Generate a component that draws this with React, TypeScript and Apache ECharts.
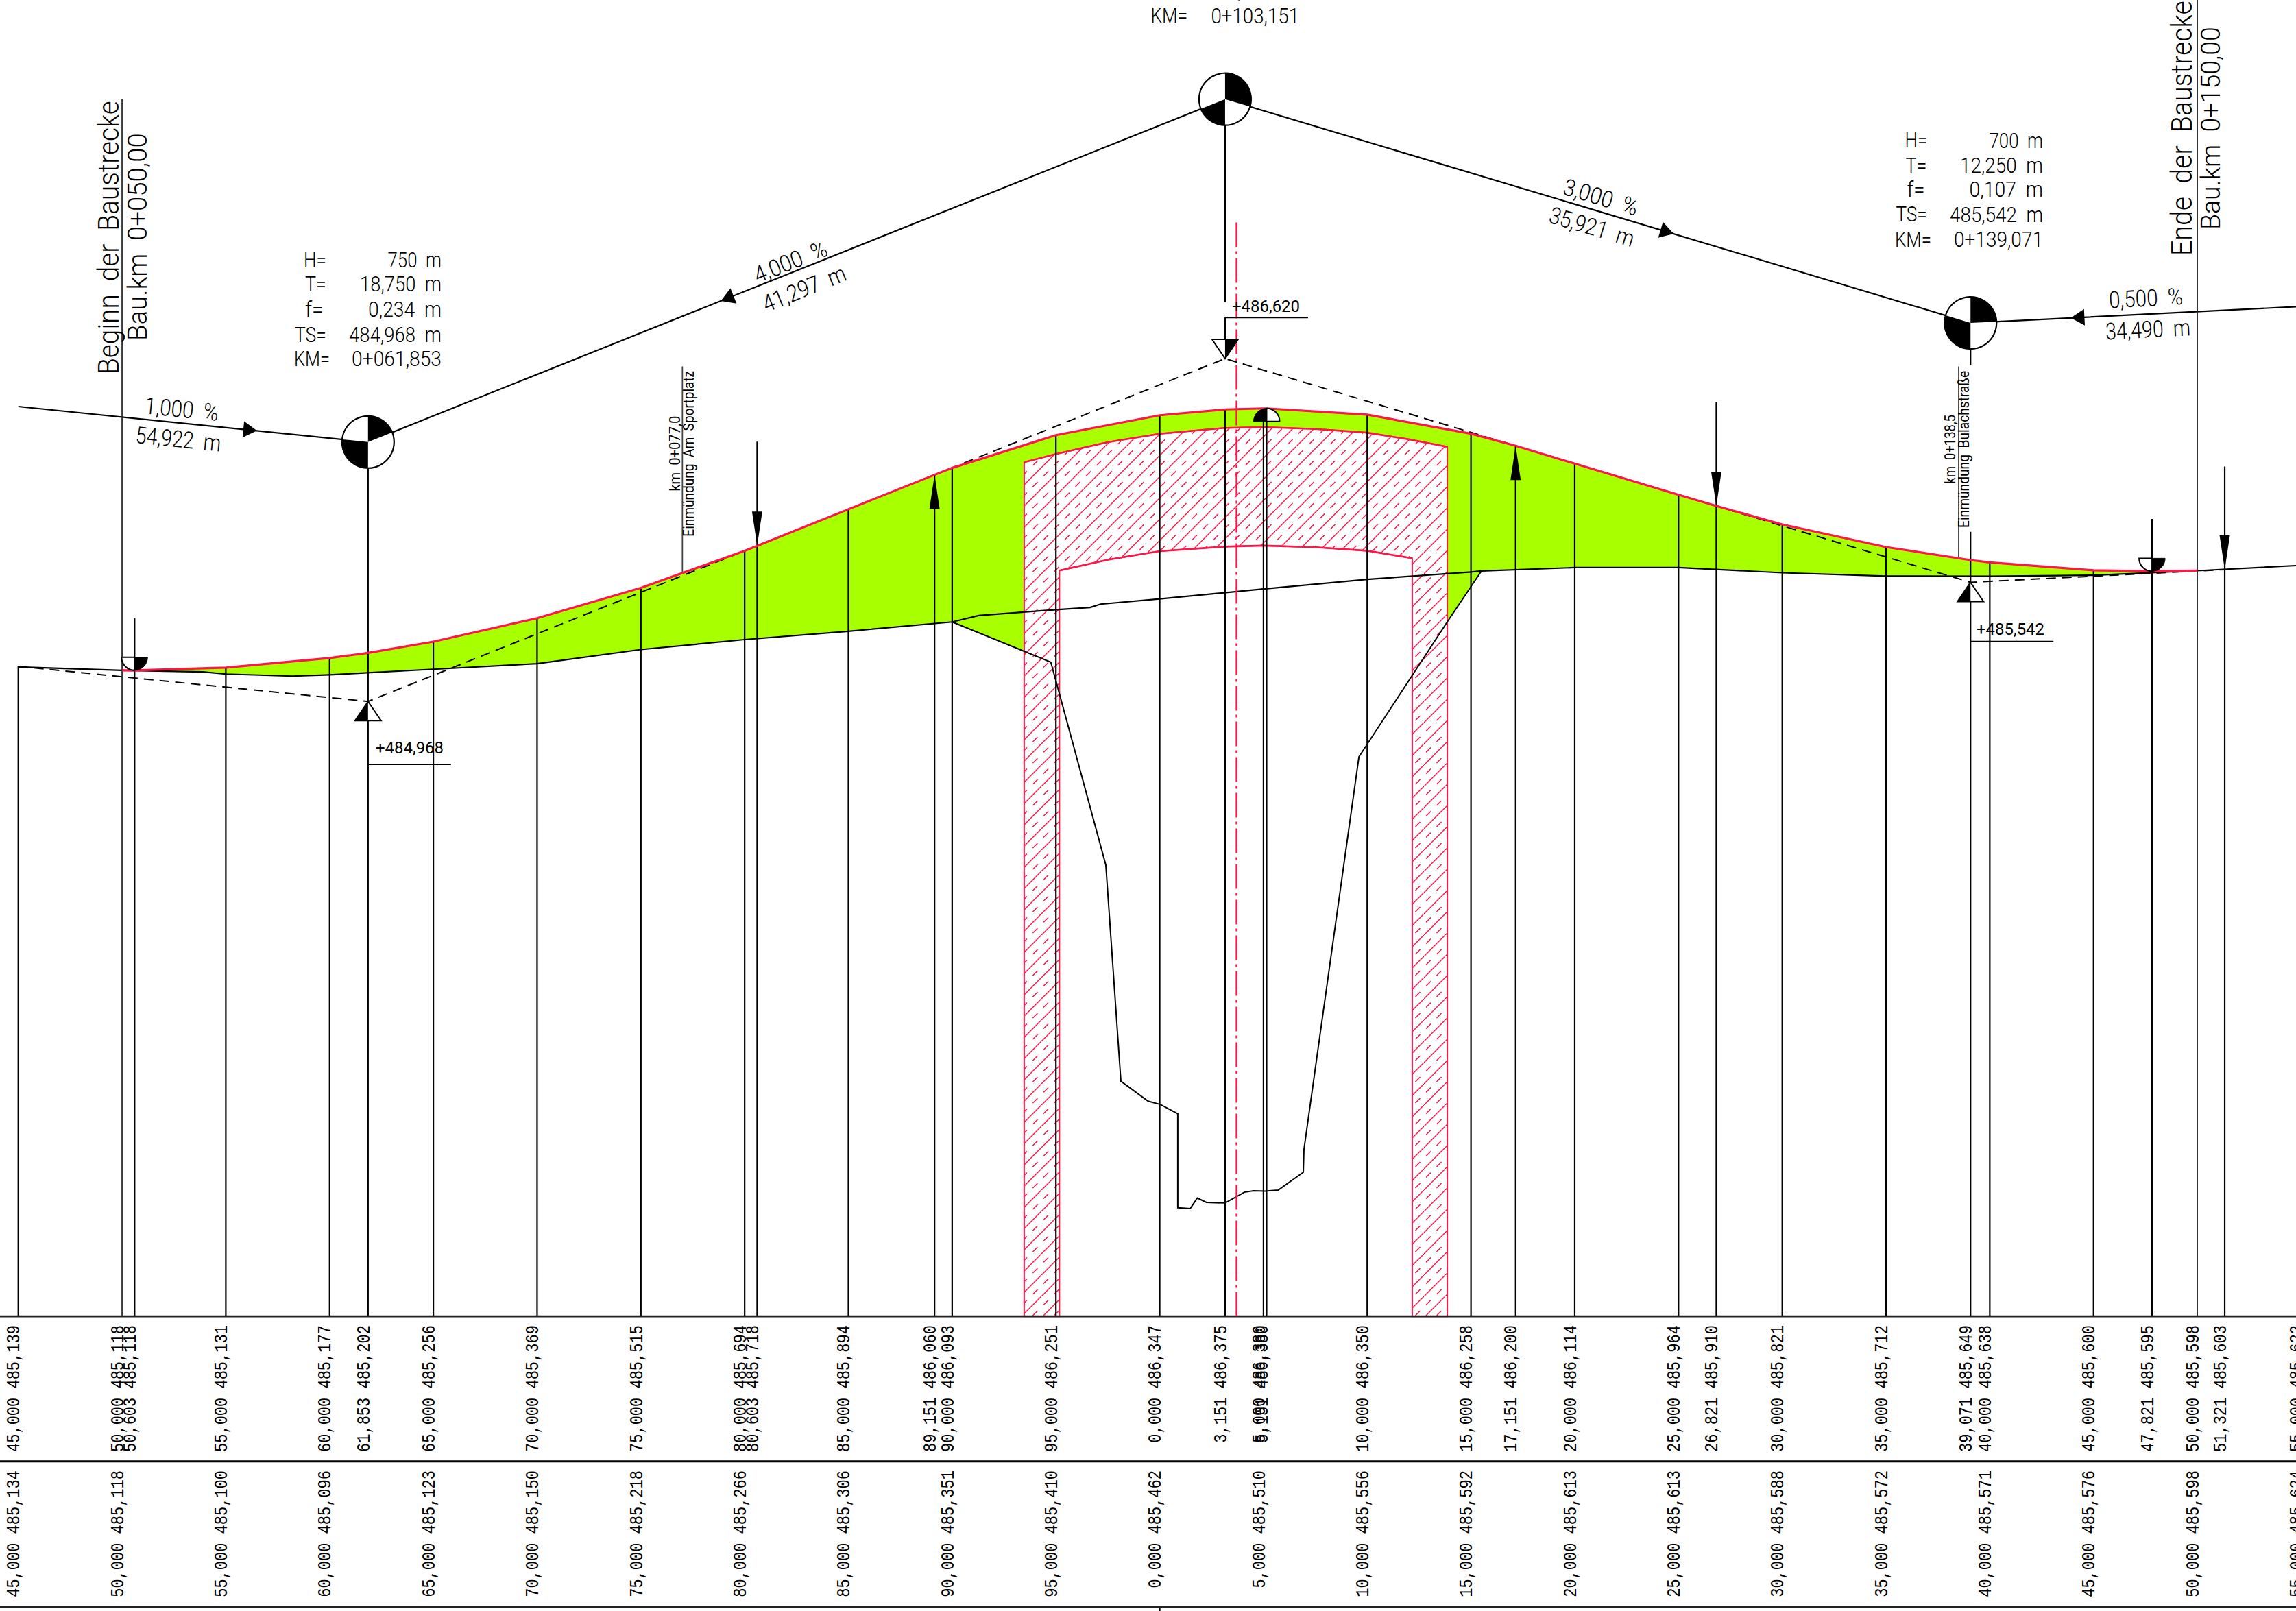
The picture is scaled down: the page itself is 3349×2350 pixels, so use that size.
import React, { useEffect, useRef } from "react";
import * as echarts from "echarts";

// ---------- survey data (chainage in m, elevation in m) ----------
const roadStations = [50, 50.603, 55, 60, 61.853, 65, 70, 75, 80, 80.603, 85, 89.151, 90, 95, 100, 103.151, 105, 105.151, 110, 115, 117.151, 120, 125, 126.821, 130, 135, 139.071, 140, 145, 147.821, 150];
const roadElev = [485.118, 485.118, 485.131, 485.177, 485.202, 485.256, 485.369, 485.515, 485.694, 485.718, 485.894, 486.06, 486.093, 486.251, 486.347, 486.375, 486.38, 486.38, 486.35, 486.258, 486.2, 486.114, 485.964, 485.91, 485.821, 485.712, 485.649, 485.638, 485.6, 485.595, 485.598];

const groundStations = [45, 50, 53.9, 55, 58.2, 60, 65, 70, 75, 80, 85, 90, 91.28, 95, 96.65, 97.15, 100, 105, 110, 115, 115.51, 120, 125, 130, 135, 140, 145, 150, 155];
const groundElev = [485.134, 485.118, 485.11, 485.1, 485.09, 485.096, 485.123, 485.15, 485.218, 485.266, 485.306, 485.351, 485.382, 485.41, 485.421, 485.437, 485.462, 485.51, 485.556, 485.592, 485.597, 485.613, 485.613, 485.588, 485.572, 485.571, 485.576, 485.598, 485.624];

const slopeStations = [90, 94.755, 97.405, 98.13, 99.44, 100.03, 100.87, 100.87, 101.47, 101.81, 102.25, 103.15, 104.08, 104.52, 105.07, 105.71, 106.92, 106.95, 109.6, 113.86, 115.51];
const slopeElev = [485.351, 485.157, 484.179, 483.138, 483.042, 483.026, 482.981, 482.528, 482.524, 482.575, 482.554, 482.551, 482.603, 482.61, 482.608, 482.613, 482.699, 482.808, 484.701, 485.352, 485.597];

const tangentStations = [45, 61.853, 103.151, 139.071, 151.321];
const tangentElev = [485.137, 484.968, 486.62, 485.542, 485.603];

const gradeStations = [45, 61.853, 103.151, 139.071, 154.755];
const gradeElev = [486.389, 486.218, 487.87, 486.792, 486.87];

const outerArchStations = [93.47, 95, 97.5, 100, 103.15, 105, 107.5, 110, 112, 113.86];
const outerArchElev = [486.121, 486.16, 486.217, 486.258, 486.286, 486.29, 486.281, 486.263, 486.231, 486.195];
const innerArchStations = [95.17, 97.5, 100, 103.15, 105, 107.5, 110, 112.17];
const innerArchElev = [485.599, 485.651, 485.692, 485.714, 485.719, 485.711, 485.694, 485.658];

// verticals: station, from elevation, to elevation
const TABLE_TOP = 482.005;
const TABLE_MID = 481.306;
const TABLE_BOTTOM = 480.604;
const AXIS_TOP = 488.348;
const AXIS_BOTTOM = 480.585;
const plainVerticals = [55, 60, 65, 70, 75, 80, 85, 89.151, 90, 95, 100, 105, 105.151, 110, 115, 117.151, 120, 125, 130, 135, 140, 145];
const specialVerticals = [
  [45, 485.137, TABLE_TOP],
  [50.603, 485.369, TABLE_TOP],
  [61.853, 486.218, TABLE_TOP],
  [80.603, 486.22, TABLE_TOP],
  [103.151, 487.87, 486.894],
  [103.151, 486.818, 486.62],
  [103.151, 486.375, TABLE_TOP],
  [126.821, 486.409, TABLE_TOP],
  [139.071, 486.792, 486.587],
  [139.071, 485.785, TABLE_TOP],
  [147.821, 485.847, TABLE_TOP],
  [151.321, 486.1, TABLE_TOP],
  [100, TABLE_BOTTOM, AXIS_BOTTOM],
];
const thinVerticals = [
  [50, 487.869, TABLE_TOP],
  [150, AXIS_TOP, TABLE_TOP],
];
const noteVerticals = [
  [77, 486.582, 485.59],
  [138.5, 486.582, 485.655],
];

const CENTER_STATION = 103.7;
const CENTER_TOP = 487.276;

const arrowStations = [80.603, 89.151, 117.151, 126.821, 151.321];
const arrowElev = [485.718, 486.06, 486.2, 485.91, 485.603];
const arrowDirs = [-1, 1, 1, -1, -1];

const gradeArrowStations = [56.5, 78.85, 124.77, 143.9];

const domeStations = [50.603, 105.151, 147.821];
const domeElev = [485.118, 486.38, 485.595];
const domeKinds = ["low", "high", "low"];

const levelStations = [61.853, 103.151, 139.071];
const levelElev = [484.968, 486.62, 485.542];
const levelKinds = [1, -1, 1];
const levelFlagElev = [484.665, 486.818, 485.257];

// table rows
const upperStations = [45, 50, 50.603, 55, 60, 61.853, 65, 70, 75, 80, 80.603, 85, 89.151, 90, 95, 100, 103.151, 105, 105.151, 110, 115, 117.151, 120, 125, 126.821, 130, 135, 139.071, 140, 145, 147.821, 150, 151.321, 155];
const upperLabels = ["45,000 485,139", "50,000 485,118", "50,603 485,118", "55,000 485,131", "60,000 485,177", "61,853 485,202", "65,000 485,256", "70,000 485,369", "75,000 485,515", "80,000 485,694", "80,603 485,718", "85,000 485,894", "89,151 486,060", "90,000 486,093", "95,000 486,251", "0,000 486,347", "3,151 486,375", "5,000 486,380", "5,151 486,380", "10,000 486,350", "15,000 486,258", "17,151 486,200", "20,000 486,114", "25,000 485,964", "26,821 485,910", "30,000 485,821", "35,000 485,712", "39,071 485,649", "40,000 485,638", "45,000 485,600", "47,821 485,595", "50,000 485,598", "51,321 485,603", "55,000 485,622"];
const lowerStations = [45, 50, 55, 60, 65, 70, 75, 80, 85, 90, 95, 100, 105, 110, 115, 120, 125, 130, 135, 140, 145, 150, 155];
const lowerLabels = ["45,000 485,134", "50,000 485,118", "55,000 485,100", "60,000 485,096", "65,000 485,123", "70,000 485,150", "75,000 485,218", "80,000 485,266", "85,000 485,306", "90,000 485,351", "95,000 485,410", "0,000 485,462", "5,000 485,510", "10,000 485,556", "15,000 485,592", "20,000 485,613", "25,000 485,613", "30,000 485,588", "35,000 485,572", "40,000 485,571", "45,000 485,576", "50,000 485,598", "55,000 485,624"];
const UPPER_ROW = 481.962;
const LOWER_ROW = 481.262;

// ---------- texts ----------
const annotationTexts = [
  // text, x, y, rotation, length, size, align, weight
  ["Beginn  der  Baustrecke", 158.5, 546, Math.PI / 2, 399, 42, "left", 300],
  ["Bau.km  0+050,00", 200, 497, Math.PI / 2, 303, 39, "left", 300],
  ["Ende  der  Baustrecke", 3183, 373, Math.PI / 2, 372, 42, "left", 300],
  ["Bau.km  0+150,00", 3225, 335, Math.PI / 2, 296, 39, "left", 300],
  ["1,000  %", 265, 597, -0.1, 108, 34, "center", 300],
  ["54,922  m", 260, 641, -0.1, 125, 34, "center", 300],
  ["4,000  %", 1153, 382, 0.38, 112, 34, "center", 300],
  ["41,297  m", 1173, 421, 0.38, 128, 34, "center", 300],
  ["3,000  %", 2335, 288, -0.29, 112, 34, "center", 300],
  ["35,921  m", 2322, 331, -0.29, 128, 34, "center", 300],
  ["0,500  %", 3130, 435, 0.05, 108, 34, "center", 300],
  ["34,490  m", 3133, 481, 0.05, 124, 34, "center", 300],
  ["H=", 443, 378.6, 0, 33, 32, "left", 300],
  ["T=", 445, 414, 0, 31, 32, "left", 300],
  ["f=", 445, 451, 0, 27, 32, "left", 300],
  ["TS=", 430, 488, 0, 46, 32, "left", 300],
  ["KM=", 429, 523, 0, 52, 32, "left", 300],
  ["750  m", 644, 378.6, 0, 78.6, 32, "right", 300],
  ["18,750  m", 644, 414, 0, 119, 32, "right", 300],
  ["0,234  m", 644, 451, 0, 107, 32, "right", 300],
  ["484,968  m", 644, 488, 0, 135, 32, "right", 300],
  ["0+061,853", 644, 523, 0, 131, 32, "right", 300],
  ["TS=", 1680, -14, 0, 46, 32, "left", 300],
  ["486,620  m", 1895, -14, 0, 136, 32, "right", 300],
  ["KM=", 1678.6, 22.3, 0, 53.6, 32, "left", 300],
  ["0+103,151", 1895, 22.3, 0, 128.5, 32, "right", 300],
  ["H=", 2778.6, 204.5, 0, 33, 32, "left", 300],
  ["T=", 2779.5, 241, 0, 31, 32, "left", 300],
  ["f=", 2781.5, 276, 0, 26, 32, "left", 300],
  ["TS=", 2765.4, 312.5, 0, 45.5, 32, "left", 300],
  ["KM=", 2764, 349, 0, 53, 32, "left", 300],
  ["700  m", 2980, 204.5, 0, 78.6, 32, "right", 300],
  ["12,250  m", 2980, 241, 0, 121, 32, "right", 300],
  ["0,107  m", 2980, 276, 0, 107.6, 32, "right", 300],
  ["485,542  m", 2980, 312.5, 0, 136, 32, "right", 300],
  ["0+139,071", 2980, 349, 0, 130, 32, "right", 300],
  ["+486,620", 1797, 447, 0, 99, 23, "left", 400],
  ["+484,968", 548, 1091, 0, 99, 23, "left", 400],
  ["+485,542", 2883, 917.7, 0, 99, 23, "left", 400],
  ["km  0+077,0", 983.7, 716.7, Math.PI / 2, 110, 22, "left", 400],
  ["Einmündung  Am  Sportplatz", 1005, 782.7, Math.PI / 2, 242, 22, "left", 400],
  ["km  0+138,5", 2844, 705.7, Math.PI / 2, 100.7, 22, "left", 400],
  ["Einmündung  Bulachstraße", 2865, 770, Math.PI / 2, 229.3, 22, "left", 400],
];

const RED = "#ff1547";
const GREEN = "#a8ff00";
const BLACK = "#000";
const X_MIN = 44.118;
const X_MAX = 154.755;

function zip(xs: number[], ys: number[]) {
  return xs.map((x, i) => [x, ys[i]]);
}

function lineSeries(data: number[][], color: string, width: number, z: number, type: any = "solid") {
  return {
    type: "line",
    data,
    symbol: "none",
    clip: false,
    silent: true,
    z,
    lineStyle: { color, width, type, cap: "butt", join: "miter" },
    emphasis: { disabled: true },
  };
}

function customSeries(rows: any[], z: number, draw: (row: any, api: any, i: number) => any) {
  return {
    type: "custom",
    coordinateSystem: "cartesian2d",
    clip: false,
    silent: true,
    z,
    data: rows.map((_: any, i: number) => [i]),
    renderItem: (params: any, api: any) => draw(rows[params.dataIndex], api, params.dataIndex),
  };
}

function makeHatch() {
  const T = 31;
  const c = document.createElement("canvas");
  c.width = T;
  c.height = T;
  const g = c.getContext("2d") as CanvasRenderingContext2D;
  g.fillStyle = "#fff";
  g.fillRect(0, 0, T, T);
  g.strokeStyle = RED;
  g.lineWidth = 1.5;
  g.beginPath();
  g.moveTo(-2, T + 2);
  g.lineTo(T + 2, -2);
  g.stroke();
  g.beginPath();
  g.moveTo(3, T / 2 - 3);
  g.lineTo(10, T / 2 - 10);
  g.moveTo(T / 2 + 3, T - 3);
  g.lineTo(T / 2 + 10, T - 10);
  g.stroke();
  return { image: c, repeat: "repeat", imageWidth: T, imageHeight: T };
}

function buildOption() {
  const measure = (document.createElement("canvas").getContext("2d")) as CanvasRenderingContext2D;
  const hatch = makeHatch();
  const roadRows = zip(roadStations, roadElev);
  const roadAt = (s: number) => {
    const i = roadStations.indexOf(s);
    return roadElev[i];
  };

  const greenPts = [
    ...roadRows.filter((p) => p[0] >= 50.603),
    ...zip(groundStations, groundElev).filter((p) => p[0] >= 115.51 && p[0] <= 150).reverse(),
    [113.86, 485.352],
    ...zip(outerArchStations, outerArchElev).reverse(),
    [93.47, 485.212],
    [90, 485.351],
    ...zip(groundStations, groundElev).filter((p) => p[0] <= 90 && p[0] >= 50).reverse(),
  ];

  const outer = zip(outerArchStations, outerArchElev);
  const inner = zip(innerArchStations, innerArchElev);
  const bridgePts = [
    [outer[0][0], TABLE_TOP],
    ...outer,
    [outer[outer.length - 1][0], TABLE_TOP],
    [inner[inner.length - 1][0], TABLE_TOP],
    ...inner.slice().reverse(),
    [inner[0][0], TABLE_TOP],
  ];

  const verticals = [
    ...plainVerticals.map((s) => [s, roadAt(s), TABLE_TOP]),
    ...specialVerticals,
  ];

  const upperRows = upperStations.map((s, i) => [s, upperLabels[i], UPPER_ROW]);
  const lowerRows = lowerStations.map((s, i) => [s, lowerLabels[i], LOWER_ROW]);

  const series: any[] = [
    // fill of the embankment
    customSeries([0], 1, (_r, api) => ({
      type: "polygon",
      shape: { points: greenPts.map((p) => api.coord(p)) },
      style: { fill: GREEN, stroke: null },
    })),
    // bridge section
    customSeries([0], 2, (_r, api) => ({
      type: "polygon",
      shape: { points: bridgePts.map((p) => api.coord(p)) },
      style: { fill: hatch, stroke: RED, lineWidth: 2 },
    })),
    lineSeries(outer, RED, 2.6, 3),
    lineSeries(inner, RED, 2.6, 3),
    // ground, bed, tangents
    lineSeries(zip(groundStations, groundElev), BLACK, 2.2, 5),
    lineSeries(zip(slopeStations, slopeElev), BLACK, 2, 5),
    lineSeries(zip(tangentStations, tangentElev), BLACK, 2, 5, [14, 9]),
    lineSeries(zip(gradeStations, gradeElev), BLACK, 2.2, 5),
    // verticals
    customSeries(verticals, 6, (r, api) => {
      const a = api.coord([r[0], r[1]]);
      const b = api.coord([r[0], r[2]]);
      return { type: "line", shape: { x1: a[0], y1: a[1], x2: b[0], y2: b[1] }, style: { stroke: BLACK, lineWidth: 2.2 } };
    }),
    customSeries(thinVerticals, 6, (r, api) => {
      const a = api.coord([r[0], r[1]]);
      const b = api.coord([r[0], r[2]]);
      return { type: "line", shape: { x1: a[0], y1: a[1], x2: b[0], y2: b[1] }, style: { stroke: "#222", lineWidth: 1.7 } };
    }),
    customSeries(noteVerticals, 6, (r, api) => {
      const a = api.coord([r[0], r[1]]);
      const b = api.coord([r[0], r[2]]);
      return { type: "line", shape: { x1: a[0], y1: a[1], x2: b[0], y2: b[1] }, style: { stroke: "#444", lineWidth: 1.8 } };
    }),
    // table rules
    lineSeries([[X_MIN, TABLE_TOP], [X_MAX, TABLE_TOP]], "#222", 2.6, 6),
    lineSeries([[X_MIN, TABLE_MID], [X_MAX, TABLE_MID]], "#000", 3.2, 6),
    lineSeries([[X_MIN, TABLE_BOTTOM], [X_MAX, TABLE_BOTTOM]], "#222", 2.6, 6),
    // road surface and centre line
    lineSeries(roadRows, RED, 3.2, 7),
    lineSeries([[CENTER_STATION, CENTER_TOP], [CENTER_STATION, TABLE_TOP]], RED, 2.4, 7, [36, 6, 4, 6]),
    // arrows on the road surface
    customSeries(arrowStations, 8, (s, api, i) => {
      const c = api.coord([s, arrowElev[i]]);
      const d = arrowDirs[i];
      return {
        type: "polygon",
        shape: { points: [[c[0], c[1]], [c[0] - 7.5, c[1] + d * 50], [c[0] + 7.5, c[1] + d * 50]] },
        style: { fill: BLACK },
      };
    }),
    // arrows on the gradient lines
    customSeries(gradeArrowStations, 8, (s, api) => {
      let k = 0;
      while (k < gradeStations.length - 2 && s > gradeStations[k + 1]) k++;
      const a = api.coord([gradeStations[k], gradeElev[k]]);
      const b = api.coord([gradeStations[k + 1], gradeElev[k + 1]]);
      const t = (s - gradeStations[k]) / (gradeStations[k + 1] - gradeStations[k]);
      const tip = [a[0] + (b[0] - a[0]) * t, a[1] + (b[1] - a[1]) * t];
      let dx = b[0] - a[0];
      let dy = b[1] - a[1];
      if (dy < 0) {
        dx = -dx;
        dy = -dy;
      }
      const n = Math.hypot(dx, dy);
      const ux = dx / n;
      const uy = dy / n;
      const bx = tip[0] - ux * 20;
      const by = tip[1] - uy * 20;
      return {
        type: "polygon",
        shape: { points: [tip, [bx - uy * 12, by + ux * 12], [bx + uy * 12, by - ux * 12]] },
        style: { fill: BLACK },
      };
    }),
    // intersection discs
    customSeries([1, 2, 3], 9, (k, api) => {
      const c = api.coord([gradeStations[k], gradeElev[k]]);
      const prev = api.coord([gradeStations[k - 1], gradeElev[k - 1]]);
      const next = api.coord([gradeStations[k + 1], gradeElev[k + 1]]);
      const toNext = Math.atan2(next[1] - c[1], next[0] - c[0]);
      let toPrev = Math.atan2(prev[1] - c[1], prev[0] - c[0]);
      if (toPrev < 0) toPrev += Math.PI * 2;
      const R = 38;
      return {
        type: "group",
        children: [
          { type: "circle", shape: { cx: c[0], cy: c[1], r: R }, style: { fill: "#fff", stroke: BLACK, lineWidth: 2.2 } },
          { type: "sector", shape: { cx: c[0], cy: c[1], r: R, r0: 0, startAngle: -Math.PI / 2, endAngle: toNext, clockwise: true }, style: { fill: BLACK } },
          { type: "sector", shape: { cx: c[0], cy: c[1], r: R, r0: 0, startAngle: Math.PI / 2, endAngle: toPrev, clockwise: true }, style: { fill: BLACK } },
        ],
      };
    }),
    // half-disc marks at high and low points
    customSeries(domeStations, 9, (s, api, i) => {
      const c = api.coord([s, domeElev[i]]);
      const R = 19;
      const P = Math.PI;
      const high = domeKinds[i] === "high";
      const cy = high ? c[1] + R : c[1] - R;
      const filled = high ? [P, P * 1.5] : [0, P / 2];
      const empty = high ? [P * 1.5, P * 2] : [P / 2, P];
      return {
        type: "group",
        children: [
          { type: "sector", shape: { cx: c[0], cy, r: R, r0: 0, startAngle: empty[0], endAngle: empty[1], clockwise: true }, style: { fill: "#fff", stroke: BLACK, lineWidth: 2 } },
          { type: "sector", shape: { cx: c[0], cy, r: R, r0: 0, startAngle: filled[0], endAngle: filled[1], clockwise: true }, style: { fill: BLACK, stroke: BLACK, lineWidth: 1 } },
        ],
      };
    }),
    // level triangles and flags
    customSeries(levelStations, 9, (s, api, i) => {
      const c = api.coord([s, levelElev[i]]);
      const f = api.coord([s, levelFlagElev[i]]);
      const d = levelKinds[i];
      const by = c[1] + d * 28;
      const fillSide = d > 0 ? -19 : 19;
      return {
        type: "group",
        children: [
          { type: "polygon", shape: { points: [[c[0], c[1]], [c[0] - 19, by], [c[0] + 19, by]] }, style: { fill: "#fff", stroke: BLACK, lineWidth: 2 } },
          { type: "polygon", shape: { points: [[c[0], c[1]], [c[0] + fillSide, by], [c[0], by]] }, style: { fill: BLACK } },
          { type: "line", shape: { x1: f[0], y1: f[1], x2: f[0] + 121, y2: f[1] }, style: { stroke: BLACK, lineWidth: 2 } },
        ],
      };
    }),
    // table labels
    customSeries([...upperRows, ...lowerRows], 10, (r, api) => {
      const c = api.coord([r[0], r[2]]);
      return {
        type: "text",
        x: c[0] - 6,
        y: c[1],
        rotation: Math.PI / 2,
        scaleY: 1.25,
        style: {
          text: r[1],
          x: 0,
          y: 0,
          align: "right",
          textAlign: "right",
          verticalAlign: "middle",
          textVerticalAlign: "middle",
          fontFamily: "Liberation Mono",
          fontSize: 22,
          fill: BLACK,
        },
      };
    }),
  ];

  const elements = annotationTexts.map((row: any) => {
    const [text, x, y, rotation, len, size, align, weight] = row;
    measure.font = `${weight} ${size}px Roboto`;
    const w = measure.measureText(text).width || len;
    return {
      type: "text",
      x,
      y,
      rotation,
      scaleX: len / w,
      silent: true,
      z: 20,
      style: {
        text,
        x: 0,
        y: 0,
        align,
        textAlign: align,
        verticalAlign: "middle",
        textVerticalAlign: "middle",
        fontFamily: "Roboto",
        fontWeight: weight,
        fontSize: size,
        fill: BLACK,
      },
    };
  });

  return {
    animation: false,
    backgroundColor: "#fff",
    grid: { left: 0, right: 0, top: 0, bottom: 0, containLabel: false },
    xAxis: { type: "value", min: X_MIN, max: X_MAX, show: false, splitLine: { show: false } },
    yAxis: { type: "value", min: AXIS_BOTTOM, max: AXIS_TOP, show: false, splitLine: { show: false } },
    graphic: { elements },
    series,
  };
}

export default function App() {
  const ref = useRef<HTMLDivElement>(null);
  useEffect(() => {
    document.body.style.margin = "0";
    const chart = echarts.init(ref.current as HTMLDivElement, undefined, { renderer: "svg" });
    chart.setOption(buildOption() as any);
    return () => chart.dispose();
  }, []);
  return <div ref={ref} style={{ width: 3349, height: 2350, background: "#fff" }} />;
}
